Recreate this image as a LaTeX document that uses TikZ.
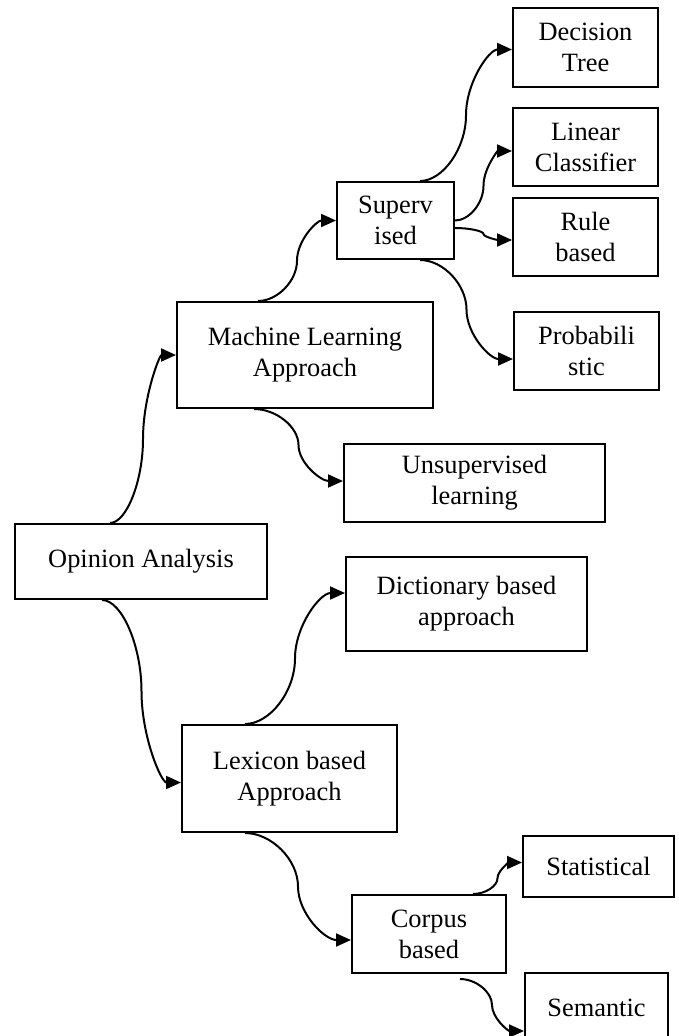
\documentclass[tikz,border=0pt]{standalone}
\usepackage{fontspec}
\setmainfont{Liberation Serif}
\usetikzlibrary{arrows.meta,calc}
\tikzset{
  box/.style={draw,line width=2pt,fill=white,align=center,inner sep=0pt,font=\fontsize{26.4}{31}\selectfont},
  conn/.style={line width=2pt,-{Triangle[length=15pt,width=13pt]}}
}
\newcommand\wconn[2]{\draw[conn] let \p1=(#1), \p2=(#2) in (\p1) .. controls ({\x1+(\x2-\x1)/4},\y1) and ({(\x1+\x2)/2},{\y1+(\y2-\y1)/4}) .. ({(\x1+\x2)/2},{(\y1+\y2)/2}) .. controls ({(\x1+\x2)/2},{\y1+3*(\y2-\y1)/4}) and ({\x1+3*(\x2-\x1)/4},\y2) .. (\p2);}
\begin{document}
\begin{tikzpicture}[x=1pt,y=-1pt]
\useasboundingbox (0,0) rectangle (678,1036);
\clip (0,0) rectangle (678,1036);
\node[box,minimum width=145pt,minimum height=79pt] (dec) at (585.5,47.5) {Decision\\Tree};
\node[box,minimum width=145pt,minimum height=78pt] (lin) at (585.5,147) {Linear\\Classifier};
\node[box,minimum width=117pt,minimum height=77pt] (sup) at (395.5,220.5) {Superv\\ised};
\node[box,minimum width=145pt,minimum height=78pt] (rule) at (585.5,237) {Rule\\based};
\node[box,minimum width=145pt,minimum height=78pt] (prob) at (586.5,351) {Probabili\\stic};
\node[box,minimum width=256pt,minimum height=106pt] (ml) at (305,355) {Machine Learning\\Approach};
\node[box,minimum width=261pt,minimum height=78pt] (uns) at (474.5,483) {Unsupervised\\learning};
\node[box,minimum width=252pt,minimum height=75pt] (op) at (141,561.5) {Opinion Analysis};
\node[box,minimum width=241pt,minimum height=94pt] (dic) at (466.5,604) {Dictionary based\\approach};
\node[box,minimum width=215pt,minimum height=107pt] (lex) at (289.5,778.5) {Lexicon based\\Approach};
\node[box,minimum width=154pt,minimum height=78pt] (cor) at (429,934) {Corpus\\based};
\node[box,minimum width=151pt,minimum height=61pt] (stat) at (598.5,866.5) {Statistical};
\node[box,minimum width=143pt,minimum height=70pt] (sem) at (596.5,1008) {Semantic};
\wconn{[xshift=-31pt]op.north}{ml.west}
\wconn{[xshift=-39pt]op.south}{[yshift=-4pt]lex.west}
\wconn{[xshift=-47pt]ml.north}{sup.west}
\wconn{[xshift=-51pt]ml.south}{[yshift=2pt]uns.west}
\wconn{[xshift=24.5pt]sup.north}{[yshift=-2pt]dec.west}
\wconn{sup.east}{[yshift=-4pt]lin.west}
\wconn{[yshift=-7.5pt]sup.east}{[yshift=-3pt]rule.west}
\wconn{[xshift=24.5pt]sup.south}{[yshift=-8pt]prob.west}
\wconn{[xshift=-44.5pt]lex.north}{[yshift=11pt]dic.west}
\wconn{[xshift=-44.5pt]lex.south}{[yshift=-6pt]cor.west}
\wconn{[xshift=44pt]cor.north}{[yshift=4pt]stat.west}
\wconn{[xshift=31pt,yshift=-5pt]cor.south}{[yshift=-23pt]sem.west}
\end{tikzpicture}
\end{document}
